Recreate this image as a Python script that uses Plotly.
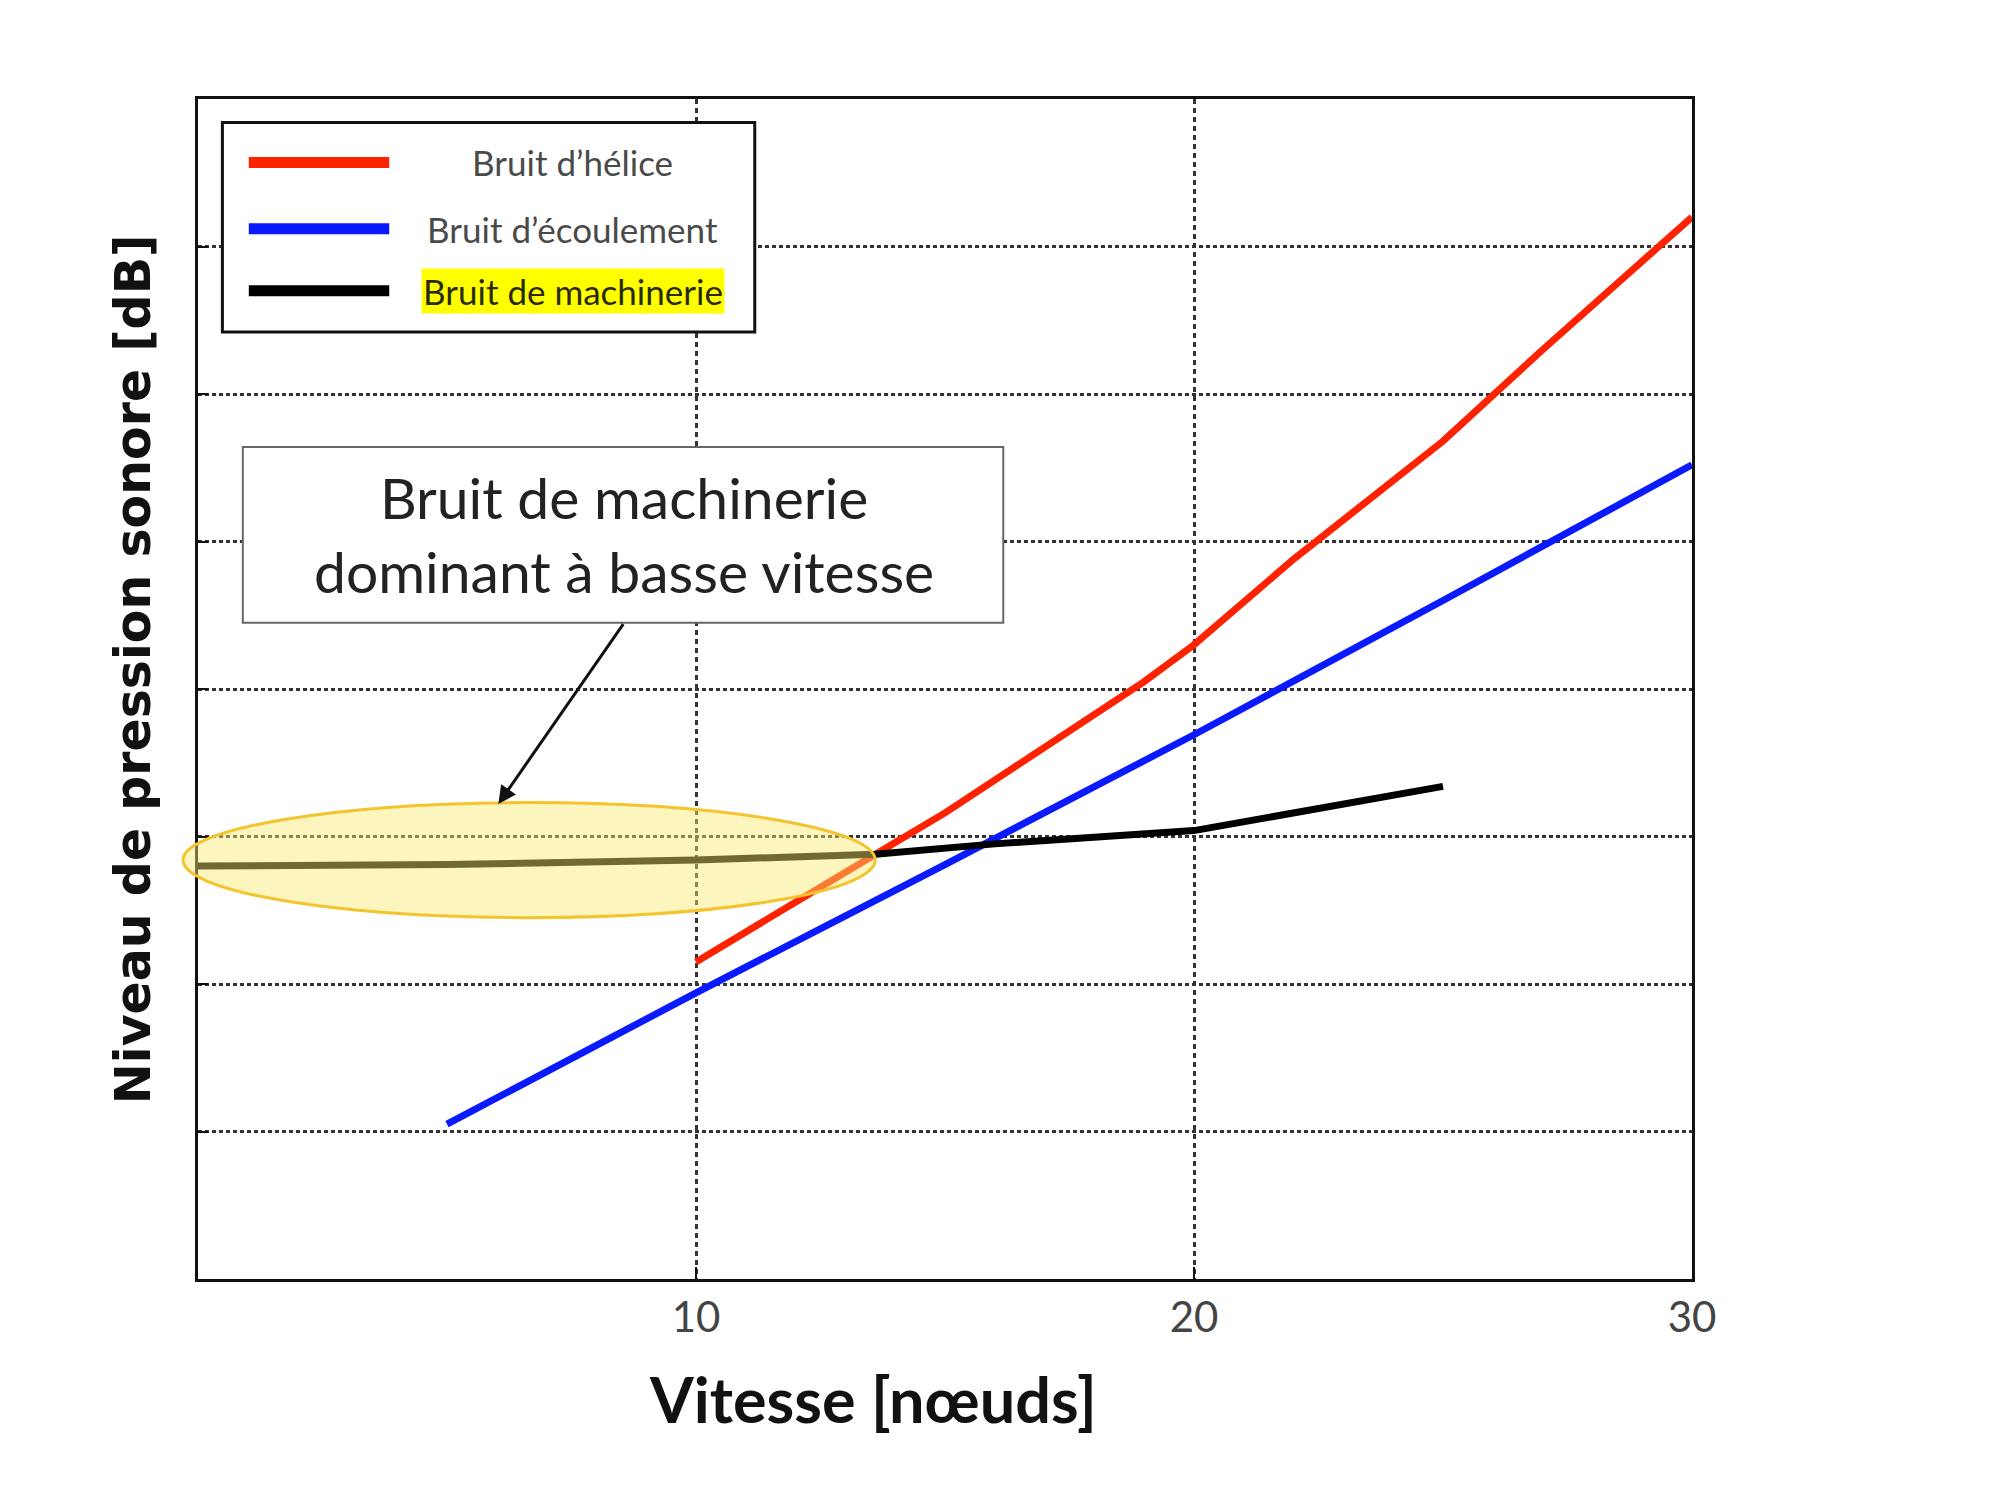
import plotly.graph_objects as go

# vitesse (noeuds) et niveaux relatifs (unités de grille)
speed_helice = [10, 12, 14, 15, 17, 19, 20, 22, 25, 27, 30]
level_helice = [2.15, 2.56, 2.96, 3.16, 3.60, 4.05, 4.30, 4.88, 5.68, 6.30, 7.20]

speed_ecoulement = [5, 10, 15, 20, 25, 30]
level_ecoulement = [1.05, 1.94, 2.81, 3.69, 4.60, 5.52]

speed_machinerie = [0, 5, 10, 13.6, 16, 18, 20, 25]
level_machinerie = [2.80, 2.81, 2.84, 2.88, 2.95, 3.00, 3.04, 3.34]

series_names = ["Bruit d\u2019hélice", "Bruit d\u2019écoulement", "Bruit de machinerie"]
series_colors = ["#ff2200", "#0a1aff", "#000000"]

x_ticks = [10, 20, 30]
y_grid = [1, 2, 3, 4, 5, 6, 7]

fig = go.Figure()
for xs, ys, name, col in zip(
    [speed_helice, speed_ecoulement, speed_machinerie],
    [level_helice, level_ecoulement, level_machinerie],
    series_names, series_colors,
):
    fig.add_trace(go.Scatter(x=xs, y=ys, mode="lines", name=name,
                             line=dict(color=col, width=7), showlegend=False))

shapes = []
annotations = []

# ellipse jaune autour du bruit de machinerie
shapes.append(dict(type="circle", xref="paper", yref="y",
                   x0=-0.01, x1=13.6 / 30, y0=2.45, y1=3.23,
                   fillcolor="rgba(248,232,110,0.45)",
                   line=dict(color="rgb(243,196,45)", width=3), layer="above"))

# encadré de commentaire
shapes.append(dict(type="rect", xref="x", yref="y", x0=0.9, x1=16.17, y0=4.45, y1=5.64,
                   fillcolor="white", line=dict(color="#666666", width=2), layer="above"))
annotations.append(dict(xref="x", yref="y", x=8.55, y=5.05,
                        text="Bruit de machinerie<br>dominant à basse vitesse",
                        showarrow=False, font=dict(family="Lato", size=57, color="#222222"),
                        align="center"))
annotations.append(dict(xref="x", yref="y", x=6.03, y=3.22, axref="x", ayref="y",
                        ax=8.56, ay=4.45, text="", showarrow=True,
                        arrowhead=2, arrowsize=1.2, arrowwidth=3, arrowcolor="#111111"))

# légende manuelle
shapes.append(dict(type="rect", xref="x", yref="y", x0=0.49, x1=11.18, y0=6.42, y1=7.84,
                   fillcolor="white", line=dict(color="#111111", width=3), layer="above"))
legend_y = [7.57, 7.12, 6.70]
for i, (name, col) in enumerate(zip(series_names, series_colors)):
    shapes.append(dict(type="line", xref="x", yref="y", x0=1.02, x1=3.84,
                       y0=legend_y[i], y1=legend_y[i],
                       line=dict(color=col, width=11), layer="above"))
    annotations.append(dict(xref="x", yref="y", x=7.52, y=legend_y[i], text=name,
                            showarrow=False,
                            font=dict(family="Lato", size=35,
                                      color="#2a2a00" if i == 2 else "#4a4a4a"),
                            bgcolor="#ffff00" if i == 2 else None, borderpad=1))

# titres des axes
annotations.append(dict(xref="paper", yref="paper", x=0.4515, y=-0.1014,
                        xanchor="center", yanchor="middle",
                        text="<b>Vitesse [nœuds]</b>", showarrow=False,
                        font=dict(family="Lato", size=63, color="#111111")))
annotations.append(dict(xref="paper", yref="paper", x=-0.043, y=0.5166,
                        xanchor="center", yanchor="middle",
                        text="<b>Niveau de pression sonore [dB]</b>", showarrow=False,
                        textangle=-90,
                        font=dict(family="DejaVu Sans", size=49, color="#111111")))

fig.update_layout(
    width=2000, height=1505,
    margin=dict(l=190, r=316, t=91, b=234),
    paper_bgcolor="white", plot_bgcolor="white",
    shapes=shapes, annotations=annotations,
    showlegend=False,
)
fig.update_xaxes(range=[0, 30], tickvals=x_ticks, ticktext=[str(v) for v in x_ticks],
                 showgrid=True, gridcolor="#333333", gridwidth=3, griddash="5px,4px",
                 showline=True, linecolor="#111111", linewidth=3, mirror=True,
                 ticks="inside", ticklen=12, tickwidth=2, tickcolor="#111111",
                 tickfont=dict(family="Lato", size=42, color="#444444"),
                 zeroline=False)
fig.update_yaxes(range=[0, 8], tickvals=y_grid, showticklabels=False,
                 showgrid=True, gridcolor="#333333", gridwidth=3, griddash="4px,3px",
                 showline=True, linecolor="#111111", linewidth=3, mirror=True,
                 ticks="inside", ticklen=10, tickwidth=2, tickcolor="#111111",
                 zeroline=False)

fig.write_html("out.html")
